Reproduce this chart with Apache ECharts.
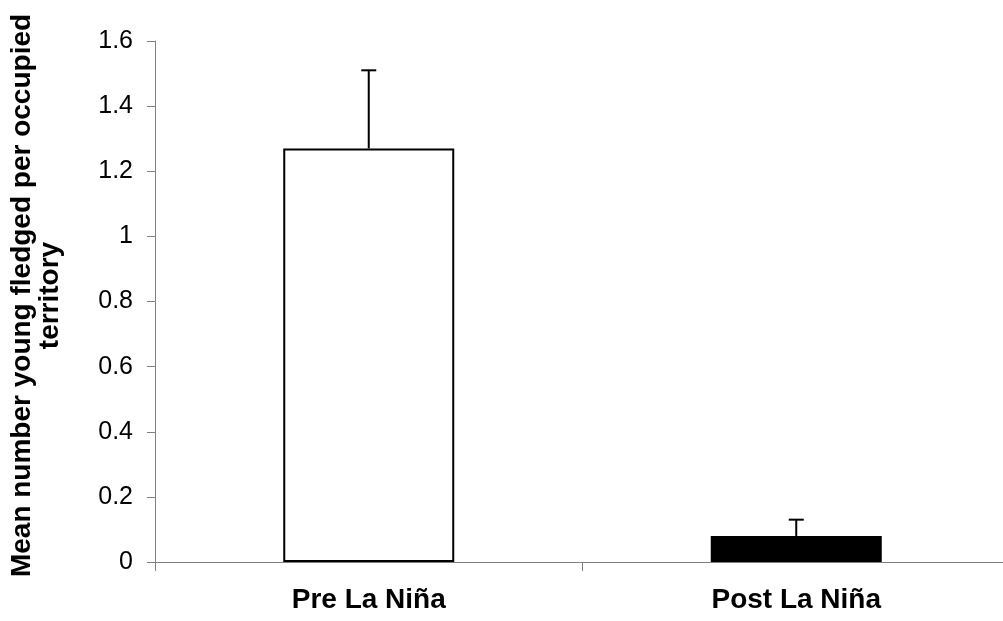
<!DOCTYPE html>
<html>
<head>
<meta charset="utf-8">
<script src="https://cdn.jsdelivr.net/npm/echarts@6/dist/echarts.min.js"></script>
<style>html,body{margin:0;padding:0;background:#fff;}#c{width:1003px;height:621px;}</style>
</head>
<body>
<div id="c"></div>
<script>
const categories = ['Pre La Niña', 'Post La Niña'];
const means = [1.27, 0.08];
const upperErrors = [1.51, 0.13];
const barFills = ['#ffffff', '#000000'];
const yTicks = [0, 0.2, 0.4, 0.6, 0.8, 1, 1.2, 1.4, 1.6];
const yTitle = 'Mean number young fledged per occupied\nterritory';

const chart = echarts.init(document.getElementById('c'), null, {renderer: 'canvas'});
chart.setOption({
  animation: false,
  grid: {left: 155, top: 41, bottom: 59, width: 855, containLabel: false, outerBoundsMode: 'none'},
  xAxis: {
    type: 'category',
    data: categories,
    axisLine: {lineStyle: {color: '#808080', width: 1}},
    axisTick: {show: true, length: 9, lineStyle: {color: '#808080'}},
    axisLabel: {color: '#000', fontFamily: 'Liberation Sans, Arial', fontWeight: 'bold', fontSize: 28, margin: 24},
    splitLine: {show: false}
  },
  yAxis: {
    type: 'value',
    min: yTicks[0],
    max: yTicks[yTicks.length - 1],
    interval: 0.2,
    axisLine: {show: true, lineStyle: {color: '#808080', width: 1}},
    axisTick: {show: true, length: 8, lineStyle: {color: '#808080'}},
    axisLabel: {color: '#000', fontFamily: 'Liberation Sans, Arial', fontSize: 25, margin: 22,
      formatter: v => String(Math.round(v * 10) / 10)},
    splitLine: {show: false},
    name: yTitle,
    nameLocation: 'middle',
    nameGap: 91,
    nameRotate: 90,
    nameTextStyle: {color: '#000', fontFamily: 'Liberation Sans, Arial', fontWeight: 'bold', fontSize: 28, lineHeight: 28, align: 'center', padding: [0, 0, 0, 12]}
  },
  series: [
    {
      type: 'bar',
      barWidth: '40%',
      data: means.map((v, i) => ({value: v, itemStyle: {color: barFills[i], borderColor: '#000', borderWidth: 2}})),
      z: 2
    },
    {
      type: 'custom',
      z: 3,
      data: means.map((v, i) => [i, v, upperErrors[i]]),
      renderItem: function (params, api) {
        const base = api.coord([api.value(0), api.value(1)]);
        const top = api.coord([api.value(0), api.value(2)]);
        const half = 7.5;
        return {
          type: 'group',
          children: [
            {type: 'line', shape: {x1: base[0], y1: base[1], x2: top[0], y2: top[1]}, style: {stroke: '#000', lineWidth: 2}},
            {type: 'line', shape: {x1: top[0] - half, y1: top[1], x2: top[0] + half, y2: top[1]}, style: {stroke: '#000', lineWidth: 2}}
          ]
        };
      }
    }
  ]
});
</script>
</body>
</html>
